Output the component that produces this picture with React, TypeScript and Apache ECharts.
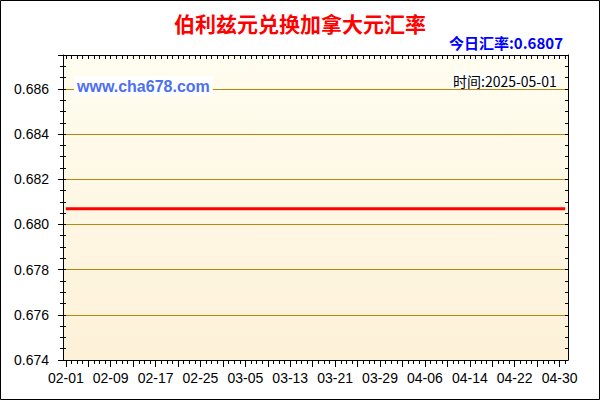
import { useEffect, useRef } from "react";
import * as echarts from "echarts";

// daily categories 02-01 .. 05-01
const dayLabels: string[] = (() => {
  const out: string[] = [];
  const d = new Date(Date.UTC(2025, 1, 1));
  const end = Date.UTC(2025, 4, 1);
  while (d.getTime() <= end) {
    const m = String(d.getUTCMonth() + 1).padStart(2, "0");
    const day = String(d.getUTCDate()).padStart(2, "0");
    out.push(`${m}-${day}`);
    d.setUTCDate(d.getUTCDate() + 1);
  }
  return out;
})();

const rateDates = ["02-01", "05-01"];
const rates = [0.6807, 0.6807];

const yMin = 0.674;
const yMax = 0.6875;
const yStep = 0.002;

const titleText = "伯利兹元兑换加拿大元汇率";
const todayText = "今日汇率:0.6807";
const siteText = "www.cha678.com";
const timeText = "时间:2025-05-01";

const latin = "'Liberation Sans', Arial, sans-serif";
const cjk = "'Noto Sans CJK SC', sans-serif";
const gold = "#B8860B";

function buildOption(): echarts.EChartsOption {
  const catAxis = (extra: any) => ({
    type: "category" as const,
    data: dayLabels,
    boundaryGap: true,
    ...extra,
  });
  const valAxis = (extra: any) => ({
    type: "value" as const,
    min: yMin,
    max: yMax,
    interval: yStep,
    ...extra,
  });
  const black = { color: "#000", width: 1 };

  return {
    animation: false,
    backgroundColor: "#fff",
    title: [
      {
        text: titleText,
        left: "center",
        top: 12,
        padding: 0,
        textStyle: { color: "#FF0000", fontSize: 21, fontWeight: "bold", fontFamily: cjk },
      },
      {
        text: todayText,
        right: 37,
        top: 35,
        padding: 0,
        textStyle: { color: "#0000FF", fontSize: 15, fontWeight: "bold", fontFamily: cjk },
      },
      {
        text: siteText,
        left: 74,
        top: 76,
        padding: [2, 3],
        backgroundColor: "#fff",
        textStyle: { color: "#4d6ff0", fontSize: 16, fontWeight: "bold", fontFamily: latin },
      },
      {
        text: timeText,
        left: 451,
        top: 73,
        padding: [1, 2],
        backgroundColor: "#fff",
        textStyle: { color: "#000", fontSize: 14, fontWeight: "normal", fontFamily: cjk },
      },
    ],
    graphic: [
      {
        type: "rect",
        z: 100,
        shape: { x: 0.5, y: 0.5, width: 599, height: 399 },
        style: { fill: "none", stroke: "#000", lineWidth: 1 },
      },
    ],
    grid: {
      left: 63,
      right: 32,
      top: 55,
      bottom: 40,
      show: true,
      borderWidth: 0,
      backgroundColor: new echarts.graphic.LinearGradient(0, 0, 0, 1, [
        { offset: 0, color: "#FFFDF0" },
        { offset: 1, color: "#FDF1D8" },
      ]),
    },
    xAxis: [
      catAxis({
        position: "bottom",
        axisLine: { show: true, lineStyle: black },
        axisTick: { show: true, alignWithLabel: true, interval: 0, length: 4, lineStyle: black },
        axisLabel: {
          interval: 7,
          margin: 11,
          color: "#000",
          fontSize: 14,
          fontFamily: latin,
        },
        splitLine: { show: false },
      }),
      catAxis({
        position: "bottom",
        axisLine: { show: false },
        axisTick: { show: true, alignWithLabel: true, interval: 3, length: 7, lineStyle: black },
        axisLabel: { show: false },
        splitLine: { show: false },
      }),
      catAxis({
        position: "top",
        axisLine: { show: true, lineStyle: black },
        axisTick: { show: true, inside: true, alignWithLabel: true, interval: 0, length: 4, lineStyle: black },
        axisLabel: { show: false },
        splitLine: { show: false },
      }),
    ],
    yAxis: [
      valAxis({
        position: "left",
        axisLine: { show: true, lineStyle: black },
        axisTick: { show: true, length: 5, lineStyle: black },
        minorTick: { show: true, splitNumber: 4, length: 3, lineStyle: black },
        axisLabel: {
          showMaxLabel: false,
          margin: 14,
          color: "#000",
          fontSize: 14,
          fontFamily: latin,
          formatter: (v: number) => v.toFixed(3),
        },
        splitLine: { show: true, lineStyle: { color: gold, width: 1 } },
      }),
      valAxis({
        position: "right",
        axisLine: { show: true, lineStyle: black },
        axisTick: { show: true, inside: true, length: 3, lineStyle: black },
        minorTick: { show: true, splitNumber: 4, length: 3, lineStyle: black },
        axisLabel: { show: false },
        splitLine: { show: false },
      }),
      valAxis({
        position: "left",
        axisLine: { show: false },
        axisTick: { show: true, inside: true, length: 3, lineStyle: black },
        minorTick: { show: true, splitNumber: 4, length: 3, lineStyle: black },
        axisLabel: { show: false },
        splitLine: { show: false },
      }),
    ],
    series: [
      {
        type: "line",
        xAxisIndex: 0,
        yAxisIndex: 0,
        data: rateDates.map((d, i) => [d, rates[i]]),
        showSymbol: false,
        lineStyle: { color: "#FF0000", width: 3 },
        z: 5,
      },
    ],
  };
}

export default function App() {
  const ref = useRef<HTMLDivElement>(null);

  useEffect(() => {
    document.body.style.margin = "0";
    if (!ref.current) return;
    const chart = echarts.init(ref.current, undefined, { renderer: "svg" });
    chart.setOption(buildOption());
    return () => chart.dispose();
  }, []);

  return <div ref={ref} style={{ width: 600, height: 400 }} />;
}
